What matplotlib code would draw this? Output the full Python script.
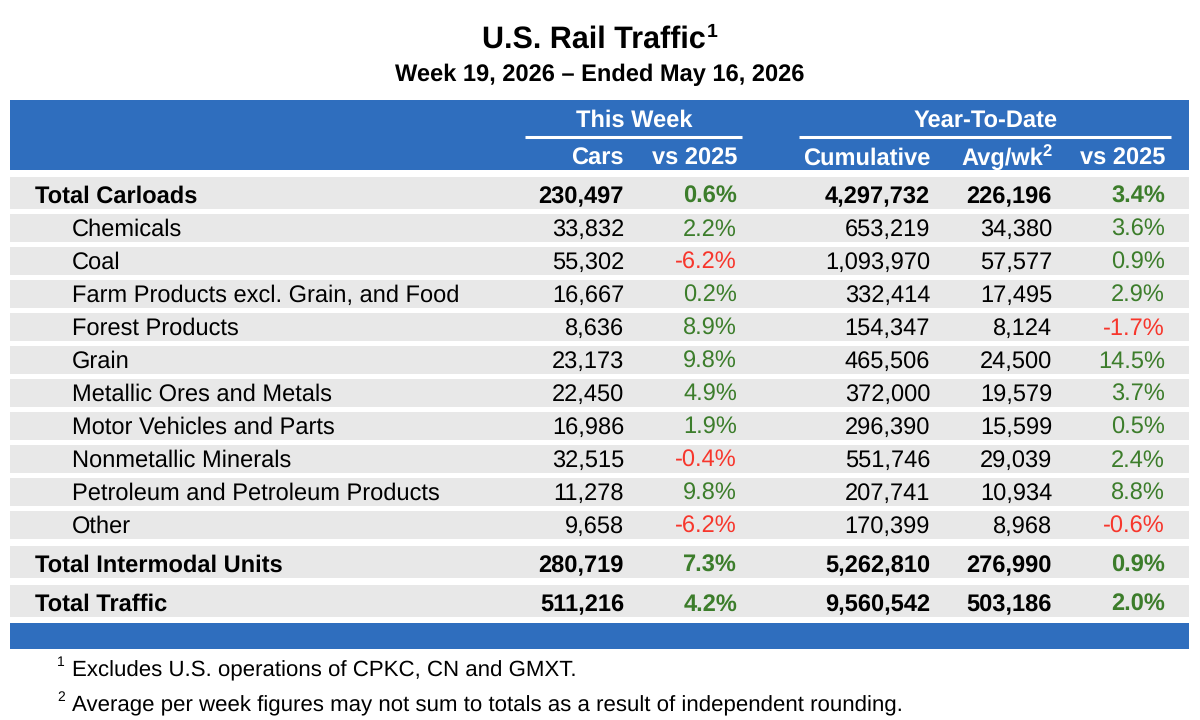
import matplotlib
matplotlib.use("Agg")
import matplotlib.pyplot as plt
from matplotlib.patches import Rectangle

''' table data '''
categories = ["Total Carloads", "Chemicals", "Coal",
              "Farm Products excl. Grain, and Food", "Forest Products", "Grain",
              "Metallic Ores and Metals", "Motor Vehicles and Parts",
              "Nonmetallic Minerals", "Petroleum and Petroleum Products", "Other",
              "Total Intermodal Units", "Total Traffic"]
is_total = [True, False, False, False, False, False, False, False, False,
            False, False, True, True]
week_cars = [230497, 33832, 55302, 16667, 8636, 23173, 22450, 16986, 32515,
             11278, 9658, 280719, 511216]
week_pct = [0.6, 2.2, -6.2, 0.2, 8.9, 9.8, 4.9, 1.9, -0.4, 9.8, -6.2, 7.3, 4.2]
ytd_cum = [4297732, 653219, 1093970, 332414, 154347, 465506, 372000, 296390,
           551746, 207741, 170399, 5262810, 9560542]
ytd_avg = [226196, 34380, 57577, 17495, 8124, 24500, 19579, 15599, 29039,
           10934, 8968, 276990, 503186]
ytd_pct = [3.4, 3.6, 0.9, 2.9, -1.7, 14.5, 3.7, 0.5, 2.4, 8.8, -0.6, 0.9, 2.0]

title = "U.S. Rail Traffic"
subtitle = "Week 19, 2026 \u2013 Ended May 16, 2026"
group_labels = ["This Week", "Year-To-Date"]
col_labels = ["Cars", "vs 2025", "Cumulative", "Avg/wk", "vs 2025"]
footnotes = ["Excludes U.S. operations of CPKC, CN and GMXT.",
             "Average per week figures may not sum to totals as a result of independent rounding."]

BLUE = '#2F6EBE'
GRAY = '#E8E8E8'
GREEN = '#3C7D2B'
RED = '#F7362C'

plt.rcParams['font.family'] = ['Liberation Sans', 'DejaVu Sans']
plt.rcParams['text.hinting'] = 'no_hinting'

fig = plt.figure(figsize=(12, 7.2), dpi=100)
ax = fig.add_axes([0, 0, 1, 1])
ax.set_xlim(0, 1200)
ax.set_ylim(720, 0)
ax.axis('off')
renderer = fig.canvas.get_renderer()
inv = ax.transData.inverted()

def extent(t):
    bb = t.get_window_extent(renderer)
    (x0, y0), (x1, y1) = inv.transform([(bb.x0, bb.y0), (bb.x1, bb.y1)])
    return x0, x1, min(y0, y1), max(y0, y1)

FS = 17
half_cap = 0.36 * FS * 100 / 72
left, right = 10, 1189
col_right = [624, 737, 930, 1052, 1165]

# title
t = ax.text(594, 48, title, ha='center', va='baseline', fontsize=22, fontweight='bold')
x0, x1, ya, yb = extent(t)
ax.text(x1 + 1, ya - 2, "1", ha='left', va='top', fontsize=14, fontweight='bold')
ax.text(600, 81, subtitle, ha='center', va='baseline', fontsize=FS, fontweight='bold')

# header
ax.add_patch(Rectangle((left, 100), right - left, 70, color=BLUE, lw=0))
ax.text(634, 118 + half_cap, group_labels[0], ha='center', va='baseline',
        fontsize=FS, fontweight='bold', color='white')
ax.text(986, 118 + half_cap, group_labels[1], ha='center', va='baseline',
        fontsize=FS, fontweight='bold', color='white')
ax.plot([525, 742], [137, 137], color='white', lw=2.2, solid_capstyle='butt')
ax.plot([799, 1171], [137, 137], color='white', lw=2.2, solid_capstyle='butt')
for i, lab in enumerate(col_labels):
    if lab == "Avg/wk":
        s = ax.text(col_right[i], 144, "2", ha='right', va='top', fontsize=12,
                    fontweight='bold', color='white')
        sx0, sx1, sya, syb = extent(s)
        ax.text(sx0, 156 + half_cap, lab, ha='right', va='baseline',
                fontsize=FS, fontweight='bold', color='white')
    else:
        ax.text(col_right[i], 156 + half_cap, lab, ha='right', va='baseline',
                fontsize=FS, fontweight='bold', color='white')

# rows
y = 177
for i, cat in enumerate(categories):
    h = 32 if is_total[i] else 28
    ax.add_patch(Rectangle((left, y), right - left, h, color=GRAY, lw=0))
    yc = y + h / 2 + (1.5 if is_total[i] else -0.5)
    w = 'bold' if is_total[i] else 'normal'
    lx = 35 if is_total[i] else 72
    ax.text(lx, yc + half_cap, cat, ha='left', va='baseline', fontsize=FS, fontweight=w)
    vals = [f"{week_cars[i]:,}", f"{week_pct[i]:.1f}%", f"{ytd_cum[i]:,}",
            f"{ytd_avg[i]:,}", f"{ytd_pct[i]:.1f}%"]
    cols = ['black', GREEN if week_pct[i] >= 0 else RED, 'black', 'black',
            GREEN if ytd_pct[i] >= 0 else RED]
    for j, v in enumerate(vals):
        ax.text(col_right[j], yc + half_cap, v, ha='right', va='baseline',
                fontsize=FS, fontweight=w, color=cols[j])
    nxt = is_total[i + 1] if i + 1 < len(categories) else True
    gap = 7 if (nxt or is_total[i]) and i > 0 else 5
    y = y + h + gap

# bottom bar
ax.add_patch(Rectangle((left, y - 1), right - left, 26, color=BLUE, lw=0))

# footnotes
for k, note in enumerate(footnotes):
    by = 676 + 35 * k
    ax.text(57, by - 10, str(k + 1), ha='left', va='baseline', fontsize=10)
    ax.text(72, by, note, ha='left', va='baseline', fontsize=16)

fig.savefig('out.png', dpi=100)
